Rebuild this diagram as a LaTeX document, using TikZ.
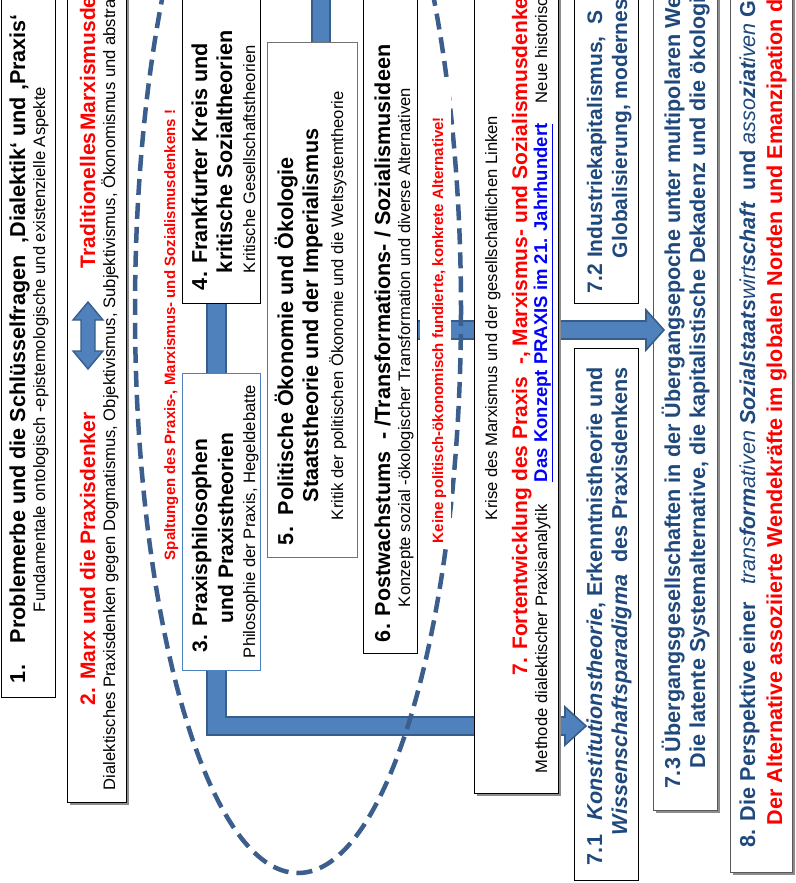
\documentclass[tikz,border=0pt]{standalone}
\usepackage{fontspec}
\setmainfont{Liberation Sans}
\usetikzlibrary{shadows}
\definecolor{bandfill}{HTML}{4F81BD}
\definecolor{bandline}{HTML}{385D8A}
\definecolor{dblue}{HTML}{1F497D}
\definecolor{ellc}{HTML}{3B5E8C}
\definecolor{redc}{HTML}{FF0000}
\definecolor{linkc}{HTML}{0000FF}
\definecolor{graybord}{HTML}{595959}
\tikzset{
 rt/.style={rotate=90, anchor=base west, inner sep=0pt, outer sep=0pt},
 fb/.style={font=\fontsize{21}{24}\selectfont\bfseries},
 fbb/.style={font=\fontsize{21.6}{24}\selectfont\bfseries},
 fs/.style={font=\fontsize{16.6}{19}\selectfont},
 fr/.style={font=\fontsize{15}{17}\selectfont\bfseries},
 fl/.style={font=\fontsize{18.5}{21}\selectfont\bfseries},
 box/.style={draw=black, fill=white, line width=0.9pt, inner sep=0pt, rectangle},
 shad/.style={drop shadow={shadow xshift=2.5pt, shadow yshift=-2.5pt, fill=black!45, opacity=1}},
 band/.style={fill=bandfill, draw=bandline, line width=1.6pt, line join=miter},
 ell/.style={draw=ellc, line width=4.5pt, dash pattern=on 16pt off 8pt},
}
\begin{document}
\begin{tikzpicture}[x=1pt,y=-1pt]
\useasboundingbox (0,0) rectangle (795,883);
\clip (0,0) rectangle (795,883);
\fill[white] (0,0) rectangle (795,883);
% boxes lying under the block arrows
\node[box, minimum width=64pt, minimum height=532pt] (b71) at (606,614) {};
\node[box, draw=graybord, shad, minimum width=64pt, minimum height=815pt] (b73) at (685,402.5) {};
% block arrows
\draw[band] (207,-10) -- (226,-10) -- (226,717) -- (565,717) -- (565,707) -- (586,726) -- (565,745) -- (565,735) -- (207,735) -- cycle;
\draw[band] (410,321) -- (646,321) -- (646,310) -- (664,330) -- (646,350) -- (646,339) -- (410,339) -- cycle;
\draw[band] (312,-10) -- (330,-10) -- (330,50) -- (312,50) -- cycle;
% other boxes
\node[box, minimum width=54pt, minimum height=702pt] (b1) at (28,346) {};
\node[box, shad, minimum width=59pt, minimum height=807pt] (b2) at (96.5,398.5) {};
\node[box, draw=bandfill, minimum width=78pt, minimum height=297pt] (b3) at (221,521.5) {};
\node[box, minimum width=78pt, minimum height=308pt] (b4) at (221,149) {};
\node[box, draw=black!55, minimum width=90pt, minimum height=515pt] (b5) at (312,299.5) {};
\node[box, minimum width=54pt, minimum height=658pt] (b6) at (390,324) {};
\node[box, shad, minimum width=84pt, minimum height=798pt] (b7) at (516,394) {};
\node[box, minimum width=64pt, minimum height=308pt] (b72) at (606,149) {};
\node[box, draw=graybord, shad, minimum width=62pt, minimum height=877pt] (b8) at (761,433.5) {};
% dashed ellipse
\draw[ell] (298,310) ellipse [x radius=163, y radius=563];
% white label background
\node[fill=white, inner sep=0pt, minimum width=31pt, minimum height=471pt] (wk) at (435.5,312.5) {};
% double arrow
\draw[band, line width=1.4pt] (88,302) -- (103,320) -- (95,320) -- (95,351) -- (103,351) -- (88,369) -- (73,351) -- (81,351) -- (81,320) -- (73,320) -- cycle;
% texts
\node[rt,fbb] (t1a) at (25,683) {1.};
\node[rt,fbb] (t1b) at (25,643) {Problemerbe und die Schlüsselfragen\ \ ‚Dialektik‘ und ‚Praxis‘};
\node[rt,fs] (t1c) at (45,612) {Fundamentale ontologisch -epistemologische und existenzielle Aspekte};
\node[rt,fb,text=redc] (t2a) at (95,705) {2. Marx und die Praxisdenker};
\node[rt,fb,text=redc] (t2b) at (95,268) {Traditionelles\hspace{2pt}Marxismusdenken};
\node[rt,fs] (t2c) at (115,790) {Dialektisches Praxisdenken gegen Dogmatismus, Objektivismus, Subjektivismus, Ökonomismus und abstrakte};
\node[rt,fr,text=redc] (tsp) at (175,560) {Spaltungen des Praxis-, Marxismus- und Sozialismusdenkens !};
\node[rt,fb] (t3a) at (207,652) {3. Praxisphilosophen};
\node[rt,fb] (t3b) at (233,623) {und Praxistheorien};
\node[rt,fs] (t3c) at (255,658) {Philosophie der Praxis, Hegeldebatte};
\node[rt,fbb] (t4a) at (207,290) {4. Frankfurter Kreis und};
\node[rt,fbb] (t4b) at (232,273) {kritische Sozialtheorien};
\node[rt,fs] (t4c) at (255,273) {Kritische Gesellschaftstheorien};
\node[rt,fbb] (t5a) at (293,545) {5.};
\node[rt,fbb] (t5b) at (293,515) {Politische Ökonomie und\ Ökologie};
\node[rt,fbb] (t5c) at (318,502) {Staatstheorie und der Imperialismus};
\node[rt,fs] (t5d) at (343,520) {Kritik der politischen Ökonomie und die Weltsystemtheorie};
\node[rt,fbb] (t6a) at (390,642) {6. Postwachstums\ \ - /Transformations- / Sozialismusideen};
\node[rt,fs] (t6b) at (410,607) {Konzepte sozial -ökologischer Transformation und diverse Alternativen};
\node[rt,fr,text=redc] (tk) at (443,543) {Keine politisch-ökonomisch fundierte, konkrete Alternative!};
\node[rt,fs] (t7a) at (497,520) {Krise des Marxismus und der gesellschaftlichen Linken};
\node[rt,fb,text=redc] (t7b) at (527,675) {7. Fortentwicklung des Praxis\ \ -, Marxismus- und Sozialismusdenkens};
\node[rt,fs] (t7c) at (547,773) {Methode dialektischer Praxisanalytik};
\node[rt,fl,text=linkc] (t7d) at (547,482) {\underline{Das Konzept PRAXIS im 21. Jahrhundert}};
\node[rt,fs] (t7e) at (547,103) {Neue historische};
\node[rt,fbb,text=dblue] (t71a) at (602,865) {7.1};
\node[rt,fbb,text=dblue] (t71b) at (602,820) {\textit{Konstitutionstheorie}, Erkenntnistheorie und};
\node[rt,fbb,text=dblue] (t71c) at (627,835) {\textit{Wissenschaftsparadigma}\ \ des Praxisdenkens};
\node[rt,fb,text=dblue] (t72a) at (602,293) {7.2 Industriekapitalismus,\ \ S};
\node[rt,fb,text=dblue] (t72b) at (627,258) {Globalisierung, modernes};
\node[rt,fbb,text=dblue] (t73a) at (680,788) {7.3 Übergangsgesellschaften in der Übergangsepoche unter multipolaren Weltordnung};
\node[rt,fbb,text=dblue] (t73b) at (705,768) {Die latente Systemalternative, die kapitalistische Dekadenz und die ökologische};
\node[rt,fbb,text=dblue] (t8a) at (755,847) {8. Die Perspektive einer\ \ \ {\mdseries\itshape trans\textbf{form}ativen} \textit{Sozialstaats{\mdseries wirt}schaft}\ \ und {\mdseries\itshape asso\textbf{ziat}iven} G};
\node[rt,fbb,text=redc] (t8b) at (782,825) {Der Alternative assoziierte Wendekräfte im globalen Norden und Emanzipation d};
\end{tikzpicture}
\end{document}
